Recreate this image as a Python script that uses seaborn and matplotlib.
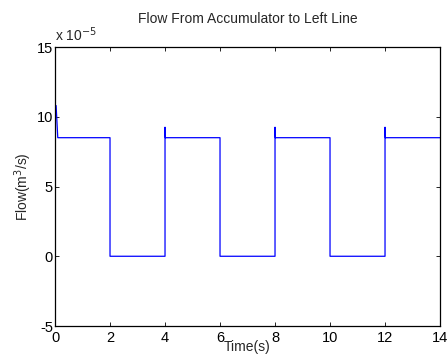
import matplotlib
matplotlib.use("Agg")
import matplotlib.pyplot as plt
import seaborn as sns
import pandas as pd
from matplotlib.ticker import FuncFormatter

sns.set_style("white")
plt.rcParams["font.family"] = ["Liberation Sans", "DejaVu Sans"]

# Flow samples (units of 1e-5 m^3/s) against time in seconds
time_s = [0, 0.04, 0.1, 2, 2, 4, 4, 4.01, 6, 6, 8, 8, 8.01, 10, 10, 12, 12, 12.01, 14]
flow_e5 = [10.8, 10.8, 8.5, 8.5, 0, 0, 9.25, 8.5, 8.5, 0, 0, 9.25, 8.5, 8.5, 0, 0, 9.25, 8.5, 8.5]
x_ticks = [0, 2, 4, 6, 8, 10, 12, 14]
y_ticks_e5 = [-5, 0, 5, 10, 15]

df = pd.DataFrame({"Time": time_s, "Flow": [v * 1e-5 for v in flow_e5]})

fig = plt.figure(figsize=(4.48, 3.57), dpi=100)
ax = fig.add_axes([0.1228, 0.0868, 0.8594, 0.7815])
sns.lineplot(data=df, x="Time", y="Flow", sort=False, estimator=None,
             color="#0000ff", linewidth=0.9, ax=ax)

ax.set_xlim(0, 14)
ax.set_ylim(-5e-5, 15e-5)
ax.set_xticks(x_ticks)
ax.set_yticks([v * 1e-5 for v in y_ticks_e5])
ax.yaxis.set_major_formatter(FuncFormatter(lambda v, p: f"{v / 1e-5:g}"))
ax.tick_params(direction="in", length=3, width=0.6, labelsize=10.5, pad=1.5,
               top=True, right=True, bottom=True, left=True, colors="black")
ax.tick_params(axis="x", pad=3.5)
for s in ax.spines.values():
    s.set_visible(True)
    s.set_color("black")
    s.set_linewidth(0.9)

ax.set_title("Flow From Accumulator to Left Line", fontsize=10, pad=17)
ax.set_xlabel("Time(s)", fontsize=10, labelpad=-3.5)
ax.set_ylabel("Flow(m$^3$/s)", fontsize=10, labelpad=2)
ax.text(0.0, 1.01, "x 10$^{-5}$", transform=ax.transAxes, fontsize=10,
        ha="left", va="bottom")

fig.savefig("out.png", dpi=100)
